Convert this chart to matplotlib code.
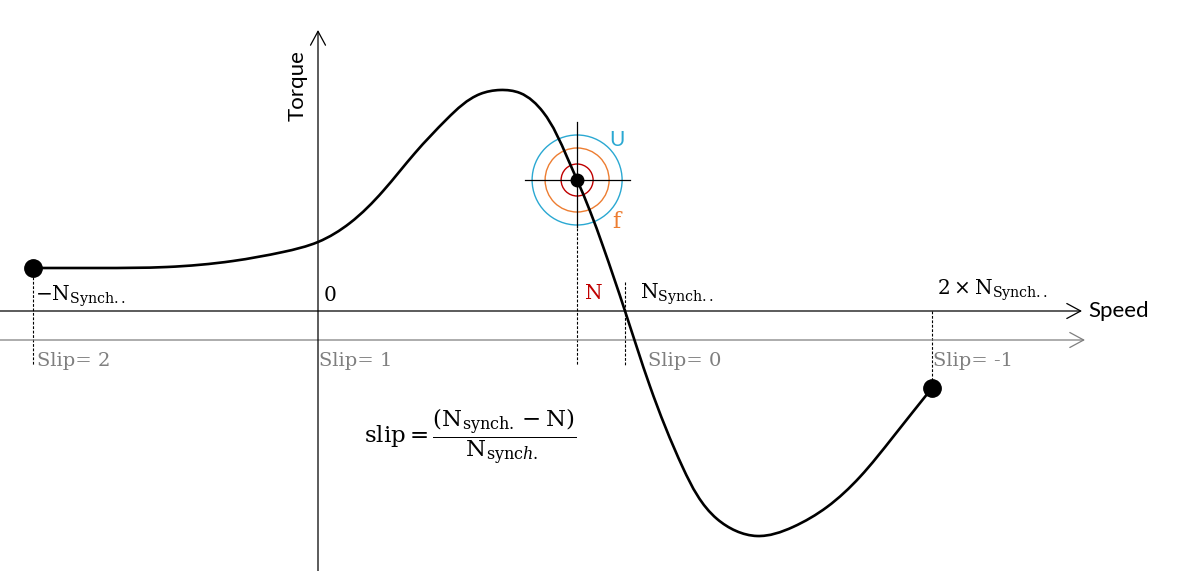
import numpy as np
import matplotlib
matplotlib.use("Agg")
import matplotlib.pyplot as plt
from matplotlib.path import Path
from matplotlib.patches import PathPatch, Ellipse

# ---------------- data (speed in units of N_synch, torque arbitrary) ----------------
speed = [-0.928, -0.710, -0.492, -0.277, -0.114, 0.0, 0.104, 0.212, 0.316, 0.420,
         0.528, 0.593, 0.658, 0.733, 0.811, 0.844, 0.886, 0.928, 1.0, 1.081,
         1.189, 1.300, 1.430, 1.547, 1.658, 1.765, 1.873, 2.0]
torque = [0.43, 0.43, 0.44, 0.50, 0.59, 0.69, 0.88, 1.20, 1.58, 1.92,
          2.17, 2.21, 2.18, 1.99, 1.54, 1.31, 1.00, 0.65, 0.0, -0.75,
          -1.57, -2.08, -2.25, -2.16, -1.96, -1.66, -1.26, -0.77]
op_speed = 0.844          # operating point N
op_torque = 1.31

speed_ticks = [-0.928, 0.0, 1.0, 2.0]
speed_labels = [r'$-\mathrm{N}_{\mathrm{Synch..}}$', r'$0$',
                r'$\mathrm{N}_{\mathrm{Synch..}}$', r'$2\times\mathrm{N}_{\mathrm{Synch..}}$']
slip_labels = ['Slip= 2', 'Slip= 1', 'Slip= 0', 'Slip= -1']

plt.rcParams['mathtext.fontset'] = 'dejavuserif'

W, H = 1184, 571
fig = plt.figure(figsize=(W / 100, H / 100), dpi=100)
ax = fig.add_axes([0, 0, 1, 1])
x0, x1 = -318 / 307, (W - 318) / 307
y0, y1 = (311 - H) / 100, 311 / 100
ax.set_xlim(x0, x1)
ax.set_ylim(y0, y1)
ax.axis('off')
sx = W / (x1 - x0)   # px per speed unit
sy = H / (y1 - y0)   # px per torque unit

GRAY = '#7f7f7f'
BLUE = '#2aa8d2'
ORANGE = '#ed7d31'
RED = '#c00000'

# ---------------- axes arrows ----------------
def arrow(xa, ya, xb, yb, color):
    ax.annotate('', xy=(xb, yb), xytext=(xa, ya),
                arrowprops=dict(arrowstyle='->,head_length=0.5,head_width=0.27',
                                lw=0.9, color=color, shrinkA=0, shrinkB=0,
                                mutation_scale=20))

arrow(x0, 0, (1082 - 318) / 307, 0, 'black')                 # speed axis
arrow(x0, -0.29, (1085 - 318) / 307, -0.29, GRAY)            # slip axis
arrow(0, y0, 0, (311 - 30) / 100, 'black')                   # torque axis

ax.text((1088 - 318) / 307, 0.0, 'Speed', fontsize=16, family='Lato',
        va='center', ha='left')
ax.text((298 - 318) / 307, (311 - 86) / 100, 'Torque', fontsize=16, family='Lato',
        rotation=90, va='center', ha='center')

# ---------------- torque-speed curve: natural cubic spline drawn as Bezier path ----------------
P = np.column_stack([speed, torque])
Q = P * np.array([sx, sy])
h = np.hypot(*np.diff(Q, axis=0).T)          # chord-length parameter steps
n = len(P)
A = np.zeros((n, n))
R = np.zeros((n, 2))
A[0, 0] = A[-1, -1] = 1.0
for i in range(1, n - 1):
    A[i, i - 1] = h[i - 1]
    A[i, i] = 2 * (h[i - 1] + h[i])
    A[i, i + 1] = h[i]
    R[i] = 6 * ((P[i + 1] - P[i]) / h[i] - (P[i] - P[i - 1]) / h[i - 1])
M = np.linalg.solve(A, R)
verts = [P[0]]
codes = [Path.MOVETO]
for i in range(n - 1):
    s = (P[i + 1] - P[i]) / h[i]
    d0 = s - h[i] * (2 * M[i] + M[i + 1]) / 6
    d1 = s + h[i] * (M[i] + 2 * M[i + 1]) / 6
    verts += [P[i] + d0 * h[i] / 3, P[i + 1] - d1 * h[i] / 3, P[i + 1]]
    codes += [Path.CURVE4] * 3
ax.add_patch(PathPatch(Path(verts, codes), fill=False, lw=1.9, color='black',
                       capstyle='round', joinstyle='round', zorder=5))

# end points
ax.plot([speed[0], speed[-1]], [torque[0], torque[-1]], 'o', color='black',
        ms=12.5, zorder=6)

# ---------------- operating point with circles ----------------
for r, c in [(45, BLUE), (32, ORANGE), (16, RED)]:
    ax.add_patch(Ellipse((op_speed, op_torque), 2 * r / sx, 2 * r / sy,
                         fill=False, ec=c, lw=1.0, zorder=3))
ax.plot([op_speed - 52 / sx, op_speed + 53 / sx], [op_torque, op_torque],
        color='black', lw=0.9, zorder=4)
ax.plot([op_speed, op_speed], [op_torque + 58 / sy, op_torque - 47 / sy],
        color='black', lw=0.9, zorder=4)
ax.plot([op_speed], [op_torque], 'o', color='black', ms=9, zorder=6)
ax.text(op_speed + 40 / sx, op_torque + 40 / sy, 'U', color=BLUE, fontsize=15,
        family='Lato', ha='center', va='center')
ax.text(op_speed + 39 / sx, op_torque - 42 / sy, 'f', color=ORANGE, fontsize=16,
        family='DejaVu Serif', ha='center', va='center')

# ---------------- dashed guide lines ----------------
ylow = (311 - 365) / 100
dash = dict(color='black', lw=0.8, ls=(0, (2.5, 1.5)), zorder=2)
ax.plot([speed[0], speed[0]], [torque[0], ylow], **dash)
ax.plot([op_speed, op_speed], [op_torque - 48 / sy, ylow], **dash)
ax.plot([1.0, 1.0], [(311 - 282) / 100, ylow], **dash)
ax.plot([2.0, 2.0], [0, torque[-1]], **dash)

# ---------------- labels ----------------
lab_dx = [0.006, 0.016, 0.049, 0.016]
lab_y = [(311 - 301) / 100, (311 - 301) / 100, (311 - 299) / 100, (311 - 295) / 100]
for xs, lab, dx, yy in zip(speed_ticks, speed_labels, lab_dx, lab_y):
    ax.text(xs + dx, yy, lab, fontsize=14.5, ha='left', va='baseline')
ax.text(op_speed + 7 / sx, (311 - 299) / 100, r'$\mathrm{N}$', color=RED,
        fontsize=14.5, ha='left', va='baseline')

slip_dx = [0.013, 0.003, 0.075, 0.003]
for xs, lab, dx in zip(speed_ticks, slip_labels, slip_dx):
    ax.text(xs + dx, (311 - 366) / 100, lab, fontsize=14, color=GRAY,
            family='DejaVu Serif', ha='left', va='baseline')

ax.text((470 - 318) / 307, (311 - 437) / 100,
        r'$\mathrm{slip} = \dfrac{(\mathrm{N}_{\mathrm{synch.}} - \mathrm{N})}'
        r'{\mathrm{N}_{\mathrm{sync}h\mathrm{.}}}$',
        fontsize=16.5, ha='center', va='center')

fig.savefig('out.png', dpi=100)
